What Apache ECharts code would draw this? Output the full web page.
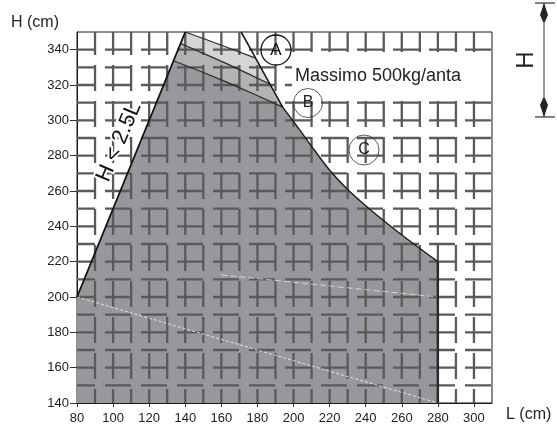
<!DOCTYPE html>
<html>
<head>
<meta charset="utf-8">
<script src="https://cdn.jsdelivr.net/npm/echarts@6/dist/echarts.min.js"></script>
<style>
  html, body { margin: 0; padding: 0; background: #fff; }
  #chart { width: 557px; height: 425px; }
</style>
</head>
<body>
<div id="chart"></div>
<script>
// Axis ranges and tick labels
const xMin = 80, xMax = 310;
const yMin = 140, yMax = 350;
const xTicks = [80, 100, 120, 140, 160, 180, 200, 220, 240, 260, 280, 300];
const yTicks = [140, 160, 180, 200, 220, 240, 260, 280, 300, 320, 340];

// Background mesh lines (every 10 cm)
const meshX = [90, 100, 110, 120, 130, 140, 150, 160, 170, 180, 190, 200, 210, 220, 230, 240, 250, 260, 270, 280, 290, 300];
const meshY = [150, 160, 170, 180, 190, 200, 210, 220, 230, 240, 250, 260, 270, 280, 290, 300, 310, 320, 330, 340];

// Limit H < 2.5 L
const limitLine = [[80, 200], [140, 350]];
// Zone boundaries (A / B / C)
const topCurve = [[140, 350], [153, 345.2], [166, 340.2], [179, 335.2]];
const midCurve = [[137.4, 343.5], [150, 337.9], [162, 332.5], [175, 326.3], [187, 320.4]];
const lowCurve = [[133.5, 333.75], [148, 327.9], [163, 321.6], [178, 314.9], [194, 307.5]];
const sideLine = [[171, 350], [179, 335.2], [187, 320.4], [194, 307.5]];
const loadCurve = [[194, 307.5], [202.8, 295.4], [211.5, 283.2], [220.4, 271.3], [229.7, 261.1],
                   [240.8, 250.9], [251.9, 241.6], [264.8, 231.4], [280, 220]];
const rightEdge = [[280, 220], [280, 140]];
// Faint scan streaks across the shaded area
const streak1 = [[80, 200], [280, 140]];
const streak2 = [[160, 212.5], [280, 200]];

// Filled zones, built from the boundaries above
const zoneDark = [[80, 140], [80, 200]].concat(lowCurve, loadCurve.slice(1), [[280, 140]]);
const zoneMid = lowCurve.concat([[187, 320.4]], midCurve.slice().reverse());
const zoneLight = midCurve.concat([[179, 335.2]], topCurve.slice().reverse());
const zones = [zoneDark, zoneMid, zoneLight];
const zoneColors = ['#98989c', '#b3b3b6', '#d5d5d7'];

const FONT = '"Liberation Sans", Arial, sans-serif';
const MESH_COLOR = '#5a5a5a';

const chart = echarts.init(document.getElementById('chart'), null, { renderer: 'canvas' });

function lineSeries(data, color, width, z, extra) {
  return Object.assign({
    type: 'line', data: data, showSymbol: false, symbol: 'none', silent: true, z: z,
    animation: false,
    lineStyle: { color: color, width: width }
  }, extra || {});
}

const option = {
  animation: false,
  backgroundColor: '#fff',
  grid: {
    left: 77, right: 65, top: 32, bottom: 16,
    show: true, borderColor: '#1a1a1a', borderWidth: 1, backgroundColor: '#fff'
  },
  xAxis: {
    type: 'value', min: xMin, max: xMax, interval: 20,
    axisLine: { show: true, onZero: false, lineStyle: { color: '#1a1a1a', width: 1 } },
    axisTick: { show: true, length: 4, customValues: xTicks, lineStyle: { color: '#333' } },
    axisLabel: { customValues: xTicks, margin: 9, color: '#222', fontSize: 13, fontFamily: FONT },
    splitLine: { show: false }
  },
  yAxis: {
    type: 'value', min: yMin, max: yMax, interval: 20,
    axisLine: { show: true, onZero: false, lineStyle: { color: '#1a1a1a', width: 1 } },
    axisTick: { show: true, length: 7, customValues: yTicks, lineStyle: { color: '#333' } },
    axisLabel: { customValues: yTicks, margin: 8, color: '#222', fontSize: 13, fontFamily: FONT },
    splitLine: { show: false }
  },
  series: [
    {
      type: 'custom', name: 'zones', z: 1, silent: true,
      data: zones.map(() => [xMin, yMin]),
      renderItem: function (params, api) {
        const pts = zones[params.dataIndex].map(p => api.coord(p));
        return { type: 'polygon', shape: { points: pts }, style: { fill: zoneColors[params.dataIndex] } };
      }
    },
    {
      type: 'custom', name: 'meshV', z: 2, silent: true,
      data: meshX.map(v => [v, yMin]),
      renderItem: function (params, api) {
        const v = api.value(0);
        const a = api.coord([v, yMax]);
        const b = api.coord([v, yMin]);
        return {
          type: 'line', shape: { x1: a[0], y1: a[1], x2: b[0], y2: b[1] },
          style: { stroke: MESH_COLOR, lineWidth: 2.3, lineDash: [26, 10], lineDashOffset: 3 }
        };
      }
    },
    {
      type: 'custom', name: 'meshH', z: 2, silent: true,
      data: meshY.map(h => [xMin, h]),
      renderItem: function (params, api) {
        const h = api.value(1);
        const a = api.coord([xMin, h]);
        const b = api.coord([xMax, h]);
        return {
          type: 'line', shape: { x1: a[0], y1: a[1], x2: b[0], y2: b[1] },
          style: { stroke: MESH_COLOR, lineWidth: 2.3, lineDash: [26, 10], lineDashOffset: 8 }
        };
      }
    },
    lineSeries(streak1, '#fff', 1, 3, { lineStyle: { color: 'rgba(255,255,255,0.75)', width: 1, type: [3, 2] } }),
    lineSeries(streak2, '#fff', 1, 3, { lineStyle: { color: 'rgba(255,255,255,0.6)', width: 1, type: [6, 3] } }),
    lineSeries(topCurve, '#2a2a2a', 1.2, 4),
    lineSeries(midCurve, '#2a2a2a', 1.2, 4),
    lineSeries(lowCurve, '#2a2a2a', 1.2, 4),
    lineSeries(sideLine, '#1a1a1a', 1.6, 5),
    lineSeries(loadCurve, '#1a1a1a', 1.4, 5, { smooth: 0.3 }),
    lineSeries(rightEdge, '#2a2a2a', 2.4, 5),
    lineSeries(limitLine, '#111', 1.8, 5)
  ],
  graphic: [
    // white panel behind the load note
    { type: 'rect', z: 50, shape: { x: 292, y: 52, width: 199, height: 49 }, style: { fill: '#fff' } },
    { type: 'text', z: 60, x: 295, y: 76, style: { text: 'Massimo 500kg/anta', font: '18px ' + FONT, fill: '#222', textVerticalAlign: 'middle' } },
    // zone markers
    { type: 'circle', z: 60, shape: { cx: 276, cy: 50, r: 15 }, style: { fill: 'none', stroke: '#111', lineWidth: 1.3 } },
    { type: 'text', z: 61, x: 276, y: 50, style: { text: 'A', font: '17px ' + FONT, fill: '#111', textAlign: 'center', textVerticalAlign: 'middle' } },
    { type: 'circle', z: 60, shape: { cx: 308, cy: 103, r: 14.5 }, style: { fill: 'none', stroke: '#333', lineWidth: 0.8 } },
    { type: 'text', z: 61, x: 308, y: 103, style: { text: 'B', font: '16px ' + FONT, fill: '#222', textAlign: 'center', textVerticalAlign: 'middle' } },
    { type: 'circle', z: 60, shape: { cx: 364, cy: 150, r: 15 }, style: { fill: 'none', stroke: '#333', lineWidth: 0.8 } },
    { type: 'text', z: 61, x: 364, y: 150, style: { text: 'C', font: '16px ' + FONT, fill: '#222', textAlign: 'center', textVerticalAlign: 'middle' } },
    // limit label along the H = 2.5L line
    { type: 'text', z: 60, x: 119, y: 142, rotation: 67 * Math.PI / 180,
      style: { text: 'H < 2.5L', font: '22px ' + FONT, fill: '#111', textAlign: 'center', textVerticalAlign: 'middle',
               stroke: '#fff', lineWidth: 4, strokeFirst: true } },
    // axis titles
    { type: 'text', z: 60, x: 11, y: 23, style: { text: 'H (cm)', font: '16px ' + FONT, fill: '#222', textVerticalAlign: 'middle' } },
    { type: 'text', z: 60, x: 506, y: 415, style: { text: 'L (cm)', font: '16px ' + FONT, fill: '#222', textVerticalAlign: 'middle' } },
    // height dimension on the right
    { type: 'line', z: 60, shape: { x1: 544, y1: 3, x2: 544, y2: 117 }, style: { stroke: '#333', lineWidth: 1 } },
    { type: 'line', z: 60, shape: { x1: 535, y1: 3, x2: 555, y2: 3 }, style: { stroke: '#333', lineWidth: 1.2 } },
    { type: 'line', z: 60, shape: { x1: 535, y1: 117, x2: 555, y2: 117 }, style: { stroke: '#333', lineWidth: 1.2 } },
    { type: 'polygon', z: 60, shape: { points: [[544, 3], [548, 15], [544.8, 22], [543.2, 22], [540, 15]] }, style: { fill: '#222' } },
    { type: 'polygon', z: 60, shape: { points: [[544, 117], [548, 105], [544.8, 98], [543.2, 98], [540, 105]] }, style: { fill: '#222' } },
    { type: 'text', z: 60, x: 526, y: 60, rotation: Math.PI / 2,
      style: { text: 'H', font: '24px ' + FONT, fill: '#222', textAlign: 'center', textVerticalAlign: 'middle' } }
  ]
};

chart.setOption(option);
</script>
</body>
</html>
